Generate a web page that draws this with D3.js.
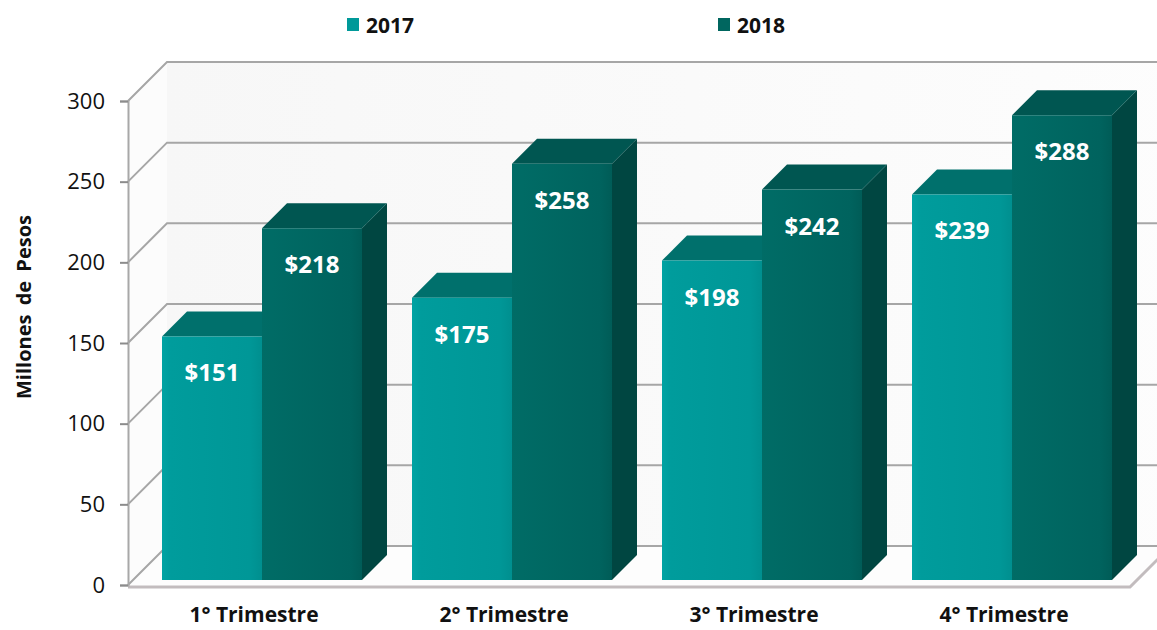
<!DOCTYPE html>
<html>
<head>
<meta charset="utf-8">
<script src="https://cdn.jsdelivr.net/npm/d3@7"></script>
<style>
	body { margin: 0; background: #fff; }
	#chartDiv { width: 1157px; height: 630px; }
	text { font-family: "Open Sans", sans-serif; }
</style>
</head>
<body>
<div id="chartDiv"></div>
<script>
// chart data
var categories = ["1° Trimestre", "2° Trimestre", "3° Trimestre", "4° Trimestre"];
var seriesNames = ["2017", "2018"];
var values2017 = [151, 175, 198, 239];
var values2018 = [218, 258, 242, 288];
var yTicks = [0, 50, 100, 150, 200, 250, 300];

var seriesValues = [values2017, values2018];
var frontColor = ["url(#grad2017)", "url(#grad2018)"];
var topColor = ["#00706c", "#005651"];
var sideColor = ["#005b57", "#004641"];
var legendColor = ["#009999", "#00665f"];

var width = 1157, height = 630;
var plotLeft = 128, plotRight = 1130;
var wallDepth = 39;      // offset of the back wall
var barFront = 5, barBack = 30;  // bar depth, in the same offset units

var svg = d3.select("#chartDiv").append("svg")
	.attr("width", width)
	.attr("height", height);

var defs = svg.append("defs");
function addGrad(id, stops) {
	var g = defs.append("linearGradient").attr("id", id)
		.attr("x1", "0%").attr("x2", "100%").attr("y1", "0%").attr("y2", "0%");
	stops.forEach(function(s) {
		g.append("stop").attr("offset", s[0]).attr("stop-color", s[1]);
	});
}
addGrad("grad2017", [["0%", "#00a3a3"], ["9%", "#009c9c"], ["88%", "#009797"], ["100%", "#008f8f"]]);
addGrad("grad2018", [["0%", "#006c66"], ["88%", "#00635e"], ["100%", "#005c57"]]);
addGrad("gradWall", [["0%", "#f7f7f7"], ["100%", "#fdfdfd"]]);

//scales
var y = d3.scaleLinear().domain([0, 300]).range([585, 101]);
var x0 = d3.scaleBand().domain(categories).range([132, 1132])
	.paddingInner(0.2).paddingOuter(0.1);
var x1 = d3.scaleBand().domain(seriesNames).range([0, x0.bandwidth()]);

function pt(px, py, d) { return [px + d, py - d]; }
function poly(points) { return points.map(function(p) { return p.join(","); }).join(" "); }

// walls
svg.append("polygon")
	.attr("points", poly([pt(plotLeft, y(300), wallDepth), pt(width + 20, y(300), wallDepth),
		pt(width + 20, y(0), wallDepth), pt(plotLeft, y(0), wallDepth)]))
	.attr("fill", "url(#gradWall)");
svg.append("polygon")
	.attr("points", poly([[plotLeft, y(300)], pt(plotLeft, y(300), wallDepth),
		pt(plotLeft, y(0), wallDepth), [plotLeft, y(0)]]))
	.attr("fill", "#fcfcfc");
svg.append("polygon")
	.attr("points", poly([[plotLeft, y(0)], [plotRight, y(0)],
		pt(plotRight, y(0), wallDepth), pt(plotLeft, y(0), wallDepth)]))
	.attr("fill", "#fdfdfd");

// gridlines
svg.selectAll(".grid")
	.data(yTicks)
	.enter().append("polyline")
	.attr("class", "grid")
	.attr("points", function(d) {
		return poly([[plotLeft, y(d)], pt(plotLeft, y(d), wallDepth), pt(width + 20, y(d), wallDepth)]);
	})
	.attr("fill", "none")
	.attr("stroke", "#a6a6a6")
	.attr("stroke-width", 2);

// floor front edge
svg.append("polyline")
	.attr("points", poly([[plotLeft, y(0) + 2], [plotRight, y(0) + 2], pt(plotRight, y(0) + 2, wallDepth)]))
	.attr("fill", "none")
	.attr("stroke", "#c2bcbe")
	.attr("stroke-width", 3);

// y axis
var yAxis = svg.append("g")
	.attr("transform", "translate(" + plotLeft + ",0)")
	.call(d3.axisLeft(y).tickValues(yTicks).tickSize(8).tickPadding(15));
yAxis.select(".domain").attr("stroke", "#a8a8a8").attr("stroke-width", 2);
yAxis.selectAll(".tick line").attr("stroke", "#8c8c8c").attr("stroke-width", 2);
yAxis.selectAll(".tick text")
	.attr("fill", "#111")
	.style("font-size", "22px")
	.style("font-family", "'Open Sans', sans-serif");

svg.append("text")
	.attr("transform", "translate(31,307) rotate(-90)")
	.attr("text-anchor", "middle")
	.style("font-size", "20px")
	.style("font-weight", "bold")
	.style("word-spacing", "4px")
	.attr("fill", "#111")
	.text("Millones de Pesos");

// bars
var group = svg.selectAll(".group")
	.data(categories)
	.enter().append("g")
	.attr("class", "group");

group.each(function(cat, i) {
	var g = d3.select(this);
	seriesNames.forEach(function(s, k) {
		var v = seriesValues[k][i];
		var xl = x0(cat) + x1(s), xr = xl + x1.bandwidth();
		var yt = y(v), yb = y(0);
		var fl = pt(xl, yt, barFront), fr = pt(xr, yt, barFront);
		var bl = pt(xl, yt, barBack), br = pt(xr, yt, barBack);
		var frb = pt(xr, yb, barFront), brb = pt(xr, yb, barBack), flb = pt(xl, yb, barFront);
		g.append("polygon")
			.attr("points", poly([fr, br, brb, frb]))
			.attr("fill", sideColor[k]);
		g.append("polygon")
			.attr("points", poly([fl, fr, br, bl]))
			.attr("fill", topColor[k]);
		g.append("polygon")
			.attr("points", poly([fl, fr, frb, flb]))
			.attr("fill", frontColor[k]);
		g.append("text")
			.attr("x", (fl[0] + fr[0]) / 2)
			.attr("y", fl[1] + 45)
			.attr("text-anchor", "middle")
			.attr("fill", "#fff")
			.style("font-size", "24px")
			.style("font-weight", "bold")
			.text("$" + v);
	});
});

// category labels
svg.selectAll(".cat")
	.data(categories)
	.enter().append("text")
	.attr("class", "cat")
	.attr("x", function(d) { return x0(d) + x0.bandwidth() / 2 - 3; })
	.attr("y", 622)
	.attr("text-anchor", "middle")
	.attr("fill", "#111")
	.style("font-size", "21px")
	.style("font-weight", "bold")
	.text(function(d) { return d; });

// legend
var legendX = [347, 718];
var legend = svg.selectAll(".legend")
	.data(seriesNames)
	.enter().append("g")
	.attr("class", "legend")
	.attr("transform", function(d, i) { return "translate(" + legendX[i] + ",18)"; });
legend.append("rect")
	.attr("width", 12).attr("height", 13)
	.attr("fill", function(d, i) { return legendColor[i]; });
legend.append("text")
	.attr("x", 19).attr("y", 15)
	.attr("fill", "#111")
	.style("font-size", "21px")
	.style("font-weight", "bold")
	.text(function(d) { return d; });
</script>
</body>
</html>
